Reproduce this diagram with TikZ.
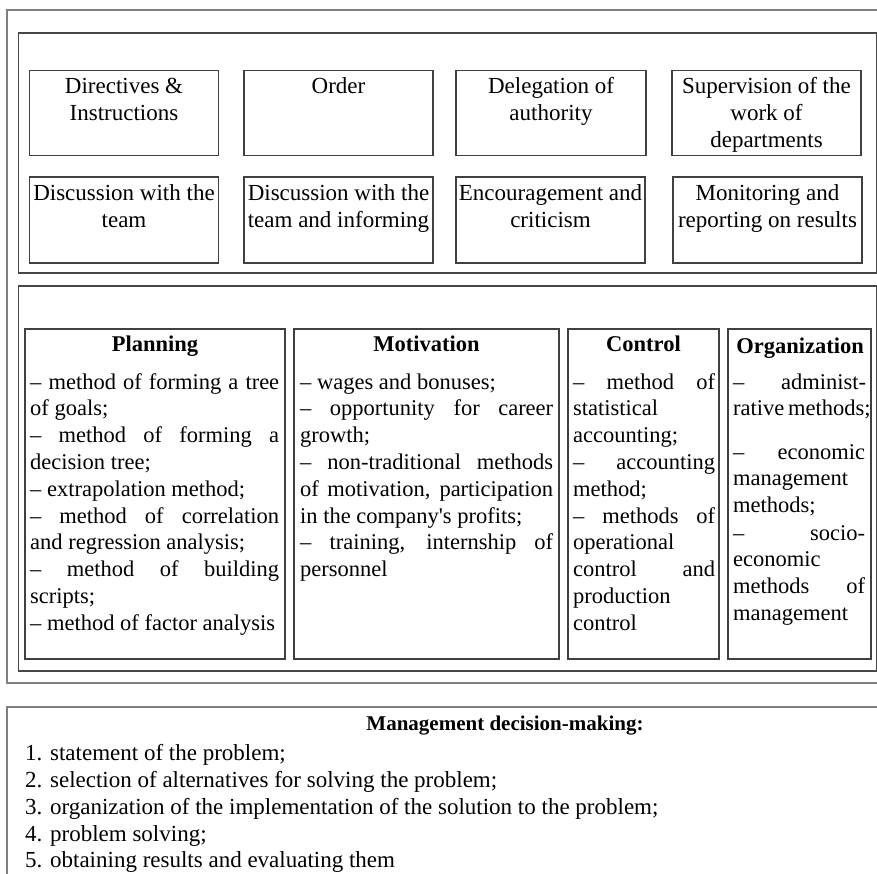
\documentclass[tikz,border=0pt]{standalone}
\usepackage{fontspec}
\setmainfont{Liberation Serif}
\newcommand{\jline}[4]{\node[anchor=base west,inner sep=0pt] at (#1,#2) {\makebox[#3pt][s]{#4}};}
\newcommand{\lline}[3]{\node[anchor=base west,inner sep=0pt] at (#1,#2) {#3};}
\newcommand{\cenline}[3]{\node[anchor=base,inner sep=0pt] at (#1,#2) {#3};}
\tikzset{
  frame/.style={draw=black!50,line width=1.5pt},
  panel/.style={draw=black!72,line width=1.8pt},
  itembox/.style={draw=black!75,line width=1.2pt},
  every node/.append style={font=\fontsize{23}{27}\selectfont},
  lowtext/.style={font=\fontsize{22.5}{27}\selectfont},
  headtext/.style={font=\fontsize{21}{27}\selectfont\bfseries},
}
\begin{document}
\begin{tikzpicture}[x=1pt,y=-1pt]
\useasboundingbox (0,0) rectangle (877,873);
\clip (0,0) rectangle (877,873);
% outer frame and panels
\draw[frame] (7,10) rectangle (882,683);
\draw[panel] (18.5,33) rectangle (877,273);
\draw[panel] (18.5,286) rectangle (877,671);
\draw[frame] (7,707) rectangle (1040,890);
% top boxes
\draw[itembox] (29.6,70.7) rectangle (218.7,155.7);
\draw[itembox] (244,70.7) rectangle (433,155.7);
\draw[itembox] (456,70.7) rectangle (646,155.7);
\draw[itembox] (672,70.7) rectangle (861,155.7);
\draw[itembox] (29.6,177) rectangle (218.7,263);
\draw[itembox] (244,177) rectangle (433,263);
\draw[itembox] (456,177) rectangle (645,263);
\draw[itembox] (673,177) rectangle (862,263);
\cenline{124}{93}{Directives \&}
\cenline{124}{120}{Instructions}
\cenline{338.5}{93}{Order}
\cenline{551}{93}{Delegation of}
\cenline{551}{120}{authority}
\cenline{766.5}{93}{Supervision of the}
\cenline{766.5}{120}{work of}
\cenline{766.5}{147}{departments}
\cenline{124}{200}{Discussion with the}
\cenline{124}{227}{team}
\cenline{338.5}{200}{Discussion with the}
\cenline{338.5}{227}{team and informing}
\cenline{550.5}{200}{Encouragement and}
\cenline{550.5}{227}{criticism}
\cenline{767.5}{200}{Monitoring and}
\cenline{767.5}{227}{reporting on results}
% lower boxes
\draw[itembox] (25,329) rectangle (285,659);
\draw[itembox] (294,329) rectangle (559,659);
\draw[itembox] (568,329) rectangle (719,659);
\draw[itembox] (728,329) rectangle (871,659);
\begin{scope}[every node/.append style={lowtext}]
\cenline{155}{351}{\textbf{Planning}}
\cenline{426.5}{351}{\textbf{Motivation}}
\cenline{643.5}{351}{\textbf{Control}}
\cenline{800}{353}{\textbf{Organization}}
% Planning
\jline{30}{389}{249}{– method of forming a tree}
\lline{30}{415.8}{of goals;}
\jline{30}{442.6}{249}{– method of forming a}
\lline{30}{469.4}{decision tree;}
\lline{30}{496.2}{– extrapolation method;}
\jline{30}{523}{249}{– method of correlation}
\lline{30}{549.8}{and regression analysis;}
\jline{30}{576.6}{249}{– method of building}
\lline{30}{603.4}{scripts;}
\lline{30}{630.2}{– method of factor analysis}
% Motivation
\lline{300}{389}{– wages and bonuses;}
\jline{300}{415.8}{253}{– opportunity for career}
\lline{300}{442.6}{growth;}
\jline{300}{469.4}{253}{– non-traditional methods}
\jline{300}{496.2}{253}{of motivation, participation}
\lline{300}{523}{in the company\textquotesingle s profits;}
\jline{300}{549.8}{253}{– training, internship of}
\lline{300}{576.6}{personnel}
% Control
\jline{573}{389}{142}{– method of}
\lline{573}{415.8}{statistical}
\lline{573}{442.6}{accounting;}
\jline{573}{469.4}{142}{– accounting}
\lline{573}{496.2}{method;}
\jline{573}{523}{142}{– methods of}
\lline{573}{549.8}{operational}
\jline{573}{576.6}{142}{control and}
\lline{573}{603.4}{production}
\lline{573}{630.2}{control}
% Organization
\jline{733}{389}{133}{– administ-}
\jline{733}{415}{136}{rative methods;}
\jline{733}{459}{132}{– economic}
\lline{733}{485}{management}
\lline{733}{512}{methods;}
\jline{733}{540}{132}{– socio-}
\lline{733}{566}{economic}
\jline{733}{593}{132}{methods of}
\lline{733}{620}{management}
\end{scope}
% bottom box
\node[headtext,anchor=base,inner sep=0pt] at (505,730) {Management decision-making:};
\lline{25}{760}{1. statement of the problem;}
\lline{25}{787}{2. selection of alternatives for solving the problem;}
\lline{25}{814}{3. organization of the implementation of the solution to the problem;}
\lline{25}{841}{4. problem solving;}
\lline{25}{867}{5. obtaining results and evaluating them}
\end{tikzpicture}
\end{document}
